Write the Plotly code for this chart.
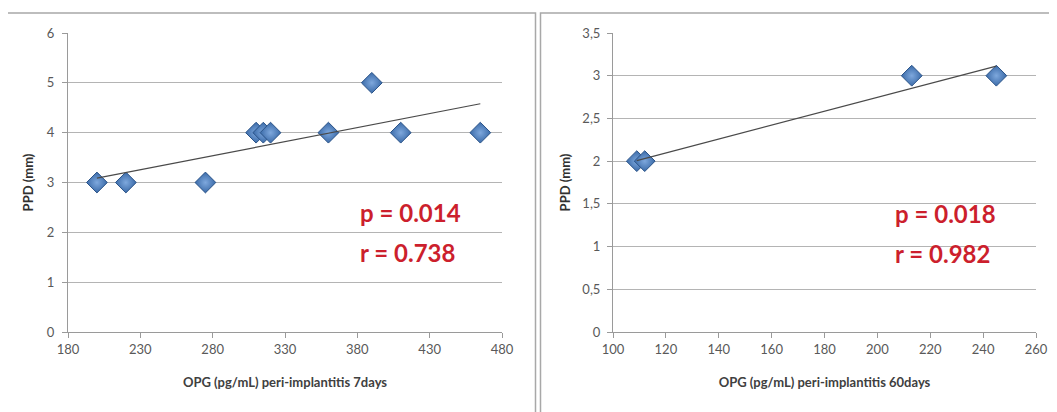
import numpy as np
import plotly.graph_objects as go

# ---- data ----
opg_7d = [200, 220, 275, 310, 315, 320, 360, 390, 410, 465]
ppd_7d = [3, 3, 3, 4, 4, 4, 4, 5, 4, 4]
opg_60d = [109, 112, 213, 245]
ppd_60d = [2, 2, 3, 3]
stats_7d = ["p = 0.014", "r = 0.738"]
stats_60d = ["p = 0.018", "r = 0.982"]
x_title_7d = "OPG (pg/mL) peri-implantitis 7days"
x_title_60d = "OPG (pg/mL) peri-implantitis 60days"
y_title = "PPD (mm)"

W, H = 1057, 412
OFF = 8  # page body margin
BLUE = "#3a6aa8"
BLUE_C = "#7ea8dd"
EDGE = "#2a5388"
RED = "#cc1f2d"
GRID = "#b4b4b4"
TICKC = "#595959"
FONT = "Lato, 'Open Sans', sans-serif"

def fit(x, y):
    k, b = np.polyfit(x, y, 1)
    xs = [min(x), max(x)]
    return xs, [k * v + b for v in xs]

fig = go.Figure()

for x, y, xa, ya in [(opg_7d, ppd_7d, "x", "y"), (opg_60d, ppd_60d, "x2", "y2")]:
    tx, ty = fit(x, y)
    fig.add_trace(go.Scatter(
        x=x, y=y, mode="markers", xaxis=xa, yaxis=ya,
        marker=dict(symbol="diamond", size=16, color=BLUE,
                    gradient=dict(type="radial", color=BLUE_C),
                    line=dict(color=EDGE, width=1)),
        showlegend=False))
    fig.add_trace(go.Scatter(
        x=tx, y=ty, mode="lines", xaxis=xa, yaxis=ya,
        line=dict(color="#4a4a4a", width=1.2), showlegend=False))

def px_x(p):
    return (p - OFF) / W

def px_y(p):
    return 1 - (p - OFF) / H

axis_common = dict(
    showline=True, linecolor="#9a9a9a", linewidth=1,
    ticks="outside", ticklen=5, tickcolor="#9a9a9a",
    tickfont=dict(family=FONT, size=13, color=TICKC),
    zeroline=False, automargin=False,
)

fig.update_layout(
    width=W, height=H,
    margin=dict(l=0, r=0, t=0, b=0),
    paper_bgcolor="white", plot_bgcolor="white",
    separators=", ",
    font=dict(family=FONT, color=TICKC),
    xaxis=dict(domain=[px_x(68), px_x(502)], range=[180, 480], dtick=50, tick0=180,
               showgrid=False, anchor="y",
               title=dict(text=x_title_7d, standoff=22,
                          font=dict(family=FONT, size=13, color="#404040", weight="bold")),
               **axis_common),
    yaxis=dict(domain=[px_y(332), px_y(33)], range=[0, 6], dtick=1,
               showgrid=True, gridcolor=GRID, gridwidth=1.3, anchor="x",
               ticklabelstandoff=5,
               title=dict(text=y_title, standoff=10,
                          font=dict(family=FONT, size=13, color="#303030", weight="bold")),
               **axis_common),
    xaxis2=dict(domain=[px_x(613), px_x(1036)], range=[100, 260], dtick=20, tick0=100,
                showgrid=False, anchor="y2",
                title=dict(text=x_title_60d, standoff=22,
                           font=dict(family=FONT, size=13, color="#404040", weight="bold")),
                **axis_common),
    yaxis2=dict(domain=[px_y(332), px_y(33)], range=[0, 3.5], dtick=0.5,
                showgrid=True, gridcolor=GRID, gridwidth=1.3, anchor="x2",
                ticklabelstandoff=4,
                title=dict(text=y_title, standoff=8,
                           font=dict(family=FONT, size=13, color="#303030", weight="bold")),
                **axis_common),
)

# panel frames
for x0, x1 in [(7, 535.5), (540.5, W + 40)]:
    fig.add_shape(type="rect", xref="paper", yref="paper",
                  x0=px_x(x0), x1=px_x(x1), y0=-0.2, y1=px_y(13),
                  line=dict(color="#a8a8a8", width=1.5), layer="below")

# statistics annotations
for texts, xa, ya, xpos, ys in [(stats_7d, "x", "y", 380.4, [2.39, 1.6]),
                                (stats_60d, "x2", "y2", 205.8, [1.39, 0.92])]:
    for t, yv in zip(texts, ys):
        fig.add_annotation(x=xpos, y=yv, xref=xa, yref=ya, text=t, showarrow=False,
                           xanchor="left", yanchor="middle",
                           font=dict(family=FONT, size=24, color=RED, weight="bold"))

fig.write_html("out.html")
